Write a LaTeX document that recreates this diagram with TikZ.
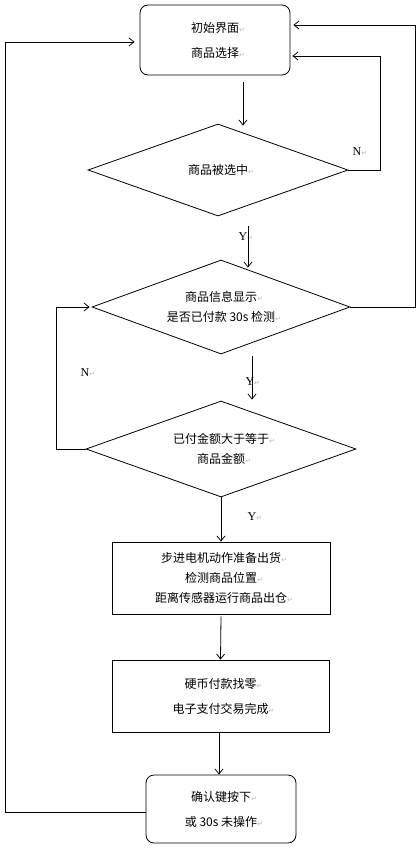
\documentclass[tikz,border=0pt]{standalone}
\usepackage{fontspec}
\setmainfont{Noto Sans CJK SC}
\newfontfamily\markfont{DejaVu Sans}
\newfontfamily\latinfont{Liberation Serif}
\usepackage{tikz}
\usetikzlibrary{positioning,arrows.meta,shapes.geometric,calc}
\newcommand\retmark{\rlap{\markfont\color{gray!55}\scriptsize ↵}}
\tikzstyle{startstop} = [rectangle, rounded corners=8pt, draw, minimum width=150pt, minimum height=70pt, align=center, font=\fontsize{12}{20}\selectfont]
\tikzstyle{decision}  = [diamond, draw, aspect=2.8, inner sep=0pt, align=center, font=\fontsize{12}{20}\selectfont]
\tikzstyle{process}   = [rectangle, draw, minimum width=218pt, minimum height=72pt, align=center, font=\fontsize{12}{20}\selectfont]
\tikzstyle{arrow}     = [->,>={Straight Barb[length=5pt,width=8pt]}]
\tikzstyle{yn}        = [font=\latinfont\fontsize{12}{14}\selectfont, inner sep=0pt]

\begin{document}
\begin{tikzpicture}[x=1pt,y=-1pt,line width=0.8pt]
        \useasboundingbox (0,0) rectangle (418,848);

        \node[startstop] (init) at (215,40) {初始界面\retmark\\[5pt]商品选择\retmark};
        \node[decision, minimum width=260pt, minimum height=92pt] (sel) at (218,170) {商品被选中\retmark};
        \node[decision, minimum width=258pt, minimum height=94pt] (info) at (221,307) {商品信息显示\retmark\\是否已付款 30s 检测\retmark};
        \node[decision, minimum width=270pt, minimum height=96pt] (pay) at (221,449) {已付金额大于等于\retmark\\商品金额\retmark};
        \node[process] (ship) at (221,578) {步进电机动作准备出货\retmark\\检测商品位置\retmark\\距离传感器运行商品出仓\retmark};
        \node[process, minimum width=217pt] (change) at (220.5,696) {硬币付款找零\retmark\\[5pt]电子支付交易完成\retmark};
        \node[startstop, minimum height=68pt] (done) at (221,809) {确认键按下\retmark\\[5pt]或 30s 未操作\retmark};

        \node[yn] (n1) at (357,152) {N\retmark};
        \node[yn] (y1) at (243,237) {Y\retmark};
        \node[yn] (y2) at (250,382) {Y\retmark};
        \node[yn] (n2) at (85,373) {N\retmark};
        \node[yn] (y3) at (252,517) {Y\retmark};

        \draw[arrow] ([xshift=28pt,yshift=-7pt]init.south) -- ([xshift=25pt,yshift=-2pt]sel.north);
        \draw[arrow] ([xshift=30pt,yshift=-10pt]sel.south) -- ([xshift=27pt,yshift=-8pt]info.north);
        \draw[arrow] ([xshift=31pt,yshift=-2pt]info.south) -- ([xshift=31pt,yshift=1pt]pay.north);
        \draw[arrow] (pay.south) -- (ship.north);
        \draw[arrow] ([yshift=-2pt]ship.south) -- (change.north);
        \draw[arrow] ([xshift=-1.5pt,yshift=-1pt]change.south) -- ([xshift=-2pt]done.north);

        \draw[arrow] (sel.east) -- ++(32,0) |- ([xshift=2pt,yshift=-16pt]init.east);
        \draw[arrow] (info.east) -- ++(65,0) |- ([xshift=3pt,yshift=15pt]init.east);
        \draw[arrow] (pay.west) -- ++(-29,0) |- ([xshift=-2pt]info.west);
        \draw[arrow] ([yshift=-3pt]done.west) -- ++(-140,0) |- ([xshift=-5pt,yshift=-2pt]init.west);
    \end{tikzpicture}
\end{document}
